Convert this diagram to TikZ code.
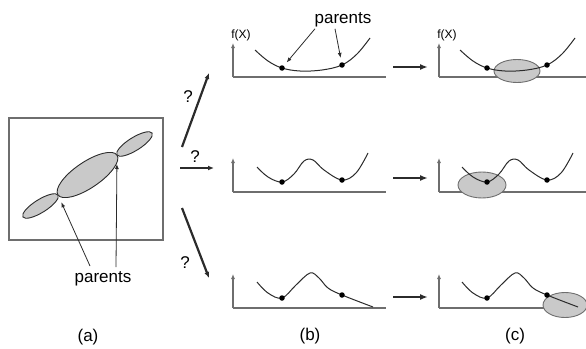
\documentclass[tikz,border=0pt]{standalone}
\usepackage{fontspec}
\setmainfont{Liberation Sans}
\usetikzlibrary{arrows.meta,positioning}
\definecolor{Ink}{HTML}{2B2B2B}
\definecolor{Frame}{HTML}{6E6E6E}
\definecolor{Shade}{HTML}{C9C9C9}

\begin{document}
\begin{tikzpicture}[x=1pt,y=-1pt,line width=1pt,
    dot/.style={circle,fill=black,minimum size=5.5pt,inner sep=0pt},
    big/.style={font=\fontsize{17}{17}\selectfont,inner sep=1pt},
    small/.style={font=\fontsize{12}{12}\selectfont,inner sep=1pt},
    axis/.style={Frame,line width=1.3pt},
    pick/.style={-{Latex[length=6pt,width=5pt]},line width=2.2pt,Ink},
    nextarr/.style={-{Latex[length=8pt,width=6pt]},line width=2.4pt,Ink},
    hint/.style={-{Latex[length=5pt,width=4pt]},line width=.8pt,Ink},
    lens/.style={draw=Ink,fill=Shade,line width=.9pt}]
  \useasboundingbox (0,0) rectangle (586,348);
  % (a) population in the box
  \draw[Frame,line width=1.4pt] (9,118) rectangle (163,240);
  \coordinate (j1) at (58,195);
  \coordinate (j2) at (117,155);
  \draw[lens,rotate around={32:(40.5,206)}] (40.5,206) ellipse (20.7 and 6.5);
  \draw[lens,rotate around={34:(87.5,175)}] (87.5,175) ellipse (35.6 and 13);
  \draw[lens,rotate around={32:(134.5,144)}] (134.5,144) ellipse (20.7 and 6.5);
  \node[big] (pa) at (103,279) {parents};
  \draw[hint,shorten >=8pt] (90,266) -- (j1);
  \draw[hint,shorten >=9pt] (116,267) -- (j2);
  % choice arrows
  \coordinate (q1s) at (182,147); \coordinate (q1e) at (209,73);
  \coordinate (q2s) at (180,168); \coordinate (q2e) at (214,168);
  \coordinate (q3s) at (182,208); \coordinate (q3e) at (209,278);
  \draw[pick] (q1s) -- (q1e);
  \draw[pick] (q2s) -- (q2e);
  \draw[pick] (q3s) -- (q3e);
  \node[big] (qa) at (188,97) {?};
  \node[big] (qb) at (195,157) {?};
  \node[big] (qc) at (185,263) {?};
  % axes of the six plots
  \foreach \x/\xe in {233/386,439/586}
    \foreach \y in {77,192,308}{
      \draw[axis] (\x,\y) -- (\xe,\y);
      \draw[axis,-{Latex[length=5pt,width=4pt]}] (\x,\y) -- (\x,\y-34);
    }
  \node[small] (fb) at (241,35) {f(X)};
  \node[small] (fc) at (447,35) {f(X)};
  % (c) offspring regions
  \fill[Shade,draw=Frame,line width=.9pt] (517,71) ellipse (23 and 11.5);
  \fill[Shade,draw=Frame,line width=.9pt] (482,185) ellipse (24 and 13);
  \fill[Shade,draw=Frame,line width=.9pt] (565,305) ellipse (22 and 12.5);
  % fitness curves, same in (b) and (c)
  \foreach \dx/\c in {0/b,205/c}{
    \begin{scope}[xshift=\dx]
      \draw[Ink] plot[smooth,tension=.6] coordinates
        {(255,50) (268,61) (282,68) (300,71) (322,70) (342,65) (357,54) (370,38)};
      \draw[Ink] plot[smooth,tension=.6] coordinates
        {(257,167) (268,177) (282,182) (294,174) (304,161) (313,160) (324,170) (342,180) (356,173) (368,153)};
      \draw[Ink] plot[smooth,tension=.6] coordinates
        {(257,282) (268,293) (282,298) (296,285) (310,273) (319,278) (328,288) (342,295) (373,307)};
      \node[dot] (\c1) at (282,68) {};
      \node[dot] (\c2) at (342,65) {};
      \node[dot] (\c3) at (282,182) {};
      \node[dot] (\c4) at (342,180) {};
      \node[dot] (\c5) at (282,298) {};
      \node[dot] (\c6) at (342,295) {};
    \end{scope}
  }
  \node[big] (pb) at (343,20) {parents};
  \draw[hint,shorten >=4pt] ([xshift=-28]pb.south) -- (b1);
  \draw[hint,shorten >=4pt] ([xshift=-8]pb.south) -- (b2);
  % steps from (b) to (c)
  \foreach \y in {67,178,297}{
    \coordinate (s\y) at (393,\y);
    \coordinate (e\y) at (428,\y);
    \draw[nextarr] (s\y) -- (e\y);
  }
  \node[big] (la) at (88,337) {(a)};
  \node[big] (lb) at (310,336) {(b)};
  \node[big] (lc) at (515,336) {(c)};
\end{tikzpicture}
\end{document}
